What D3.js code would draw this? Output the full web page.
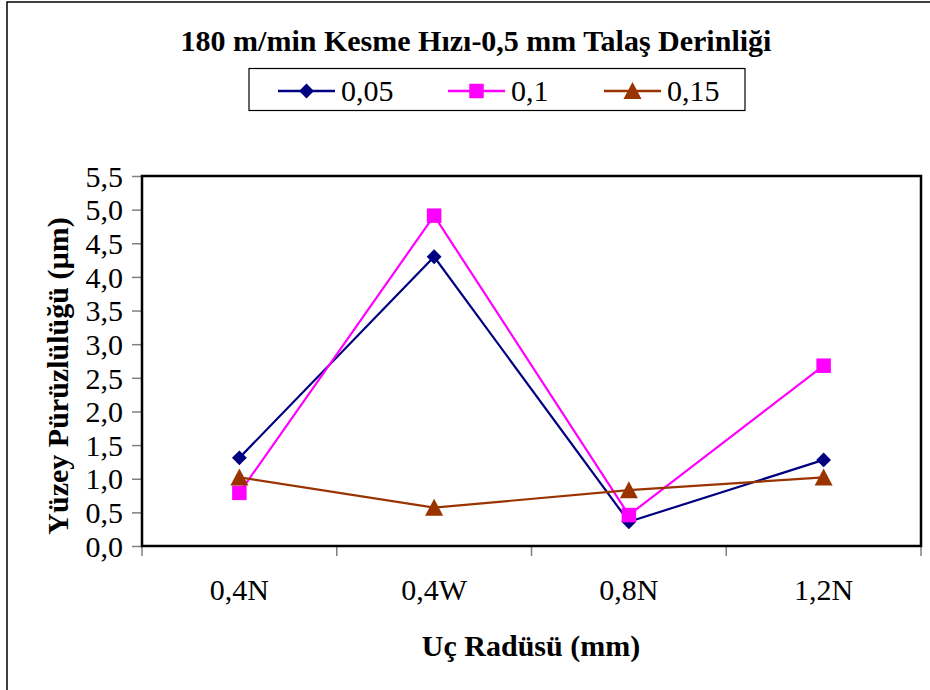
<!DOCTYPE html>
<html>
<head>
<meta charset="utf-8">
<script src="https://cdn.jsdelivr.net/npm/d3@7"></script>
<style>
  text { font-family: 'Liberation Serif', 'Times New Roman', Times, serif; }
</style>
</head>
<body style="margin:0">
<script>
// Chart data
const categories = ["0,4N", "0,4W", "0,8N", "1,2N"];
const seriesNames = ["0,05", "0,1", "0,15"];
const values005 = [1.31, 4.30, 0.36, 1.28];
const values01 = [0.79, 4.91, 0.46, 2.68];
const values015 = [1.02, 0.57, 0.83, 1.02];
const yTicks = [0, 0.5, 1, 1.5, 2, 2.5, 3, 3.5, 4, 4.5, 5, 5.5];

const colors = ["#000080", "#FF00FF", "#993300"];
const allSeries = [values005, values01, values015];
const fontName = "Liberation Serif";

// Svg "box"
const w = 930;
const h = 690;
const plot = {left: 142, right: 921, top: 176, bottom: 546};

const svg = d3.select("body")
    .append("svg")
    .attr("width", w)
    .attr("height", h)
    .attr("font-family", fontName);

// outer chart frame (only top and left are visible)
svg.append("rect")
    .attr("x", 7)
    .attr("y", 2)
    .attr("width", w + 20)
    .attr("height", h + 20)
    .attr("fill", "none")
    .attr("stroke", "#000")
    .attr("stroke-width", 1.5);

// Scales
const xScale = d3.scaleBand()
    .domain(categories)
    .range([plot.left, plot.right])
    .padding(0);

const yScale = d3.scaleLinear()
    .domain([0, 5.5])
    .range([plot.bottom, plot.top]);

const fmt = (d) => d3.format(".1f")(d).replace(".", ",");

// y axis
const yAxis = d3.axisLeft(yScale)
    .tickValues(yTicks)
    .tickFormat(fmt)
    .tickSize(10)
    .tickPadding(9);

const gy = svg.append("g")
    .attr("transform", "translate(" + plot.left + ",0)")
    .call(yAxis)
    .attr("font-family", fontName)
    .attr("font-size", 30);
gy.select(".domain").remove();
gy.selectAll(".tick line").attr("stroke", "#808080").attr("stroke-width", 1.5);
gy.selectAll(".tick text")
    .attr("fill", "#000")
    .attr("dy", "0.34em");

// x axis - labels centred in the bands, ticks on band edges
const xTickPos = categories.map((c) => xScale(c)).concat([xScale(categories[categories.length - 1]) + xScale.bandwidth()]);
svg.selectAll(".xtick")
    .data(xTickPos)
    .enter()
    .append("line")
    .attr("class", "xtick")
    .attr("x1", (d) => d)
    .attr("x2", (d) => d)
    .attr("y1", plot.bottom)
    .attr("y2", plot.bottom + 10)
    .attr("stroke", "#808080")
    .attr("stroke-width", 1.5);

svg.selectAll(".xlabel")
    .data(categories)
    .enter()
    .append("text")
    .attr("class", "xlabel")
    .attr("x", (d) => xScale(d) + xScale.bandwidth() / 2)
    .attr("y", 600)
    .attr("text-anchor", "middle")
    .attr("font-size", 30)
    .text((d) => d);

// plot border
svg.append("rect")
    .attr("x", plot.left)
    .attr("y", plot.top)
    .attr("width", plot.right - plot.left)
    .attr("height", plot.bottom - plot.top)
    .attr("fill", "none")
    .attr("stroke", "#000")
    .attr("stroke-width", 2.5);

// Marker shapes (diamond = rotated square, like Excel)
function marker(sel, s) {
    if (s === 0) {
        sel.append("path").attr("d", d3.symbol().type(d3.symbolSquare).size(110)).attr("transform", "rotate(45)").attr("fill", colors[s]);
    } else if (s === 1) {
        sel.append("path").attr("d", d3.symbol().type(d3.symbolSquare).size(210)).attr("fill", colors[s]);
    } else {
        sel.append("path").attr("d", "M0,-9L9,8L-9,8Z").attr("fill", colors[s]);
    }
}

// Lines and markers
const line = d3.line()
    .x((d, i) => xScale(categories[i]) + xScale.bandwidth() / 2)
    .y((d) => yScale(d));

allSeries.forEach((vals, s) => {
    svg.append("path")
        .datum(vals)
        .attr("d", line)
        .attr("fill", "none")
        .attr("stroke", colors[s])
        .attr("stroke-width", 2.2);
});
allSeries.forEach((vals, s) => {
    svg.selectAll(".pt" + s)
        .data(vals)
        .enter()
        .append("g")
        .attr("class", "pt" + s)
        .attr("transform", (d, i) => "translate(" + (xScale(categories[i]) + xScale.bandwidth() / 2) + "," + yScale(d) + ")")
        .each(function() { marker(d3.select(this), s); });
});

// Title
svg.append("text")
    .attr("x", 476)
    .attr("y", 51)
    .attr("text-anchor", "middle")
    .attr("font-size", 30)
    .attr("font-weight", "bold")
    .text("180 m/min Kesme Hızı-0,5 mm Talaş Derinliği");

// Legend
svg.append("rect")
    .attr("x", 249)
    .attr("y", 68.5)
    .attr("width", 496)
    .attr("height", 42)
    .attr("fill", "#fff")
    .attr("stroke", "#000")
    .attr("stroke-width", 1.2);

const legendX = [278, 448, 604];
seriesNames.forEach((name, s) => {
    const g = svg.append("g").attr("transform", "translate(" + legendX[s] + ",91)");
    g.append("line")
        .attr("x1", 0).attr("x2", 57)
        .attr("y1", 0).attr("y2", 0)
        .attr("stroke", colors[s])
        .attr("stroke-width", 2.5);
    marker(g.append("g").attr("transform", "translate(28.5,0)"), s);
    g.append("text")
        .attr("x", 63)
        .attr("y", 10)
        .attr("font-size", 30)
        .text(name);
});

// Axis titles
svg.append("text")
    .attr("x", 531)
    .attr("y", 656)
    .attr("text-anchor", "middle")
    .attr("font-size", 30)
    .attr("font-weight", "bold")
    .text("Uç Radüsü (mm)");

svg.append("text")
    .attr("transform", "translate(68,376) rotate(-90)")
    .attr("text-anchor", "middle")
    .attr("font-size", 30)
    .attr("font-weight", "bold")
    .text("Yüzey Pürüzlülüğü (µm)");
</script>
</body>
</html>
